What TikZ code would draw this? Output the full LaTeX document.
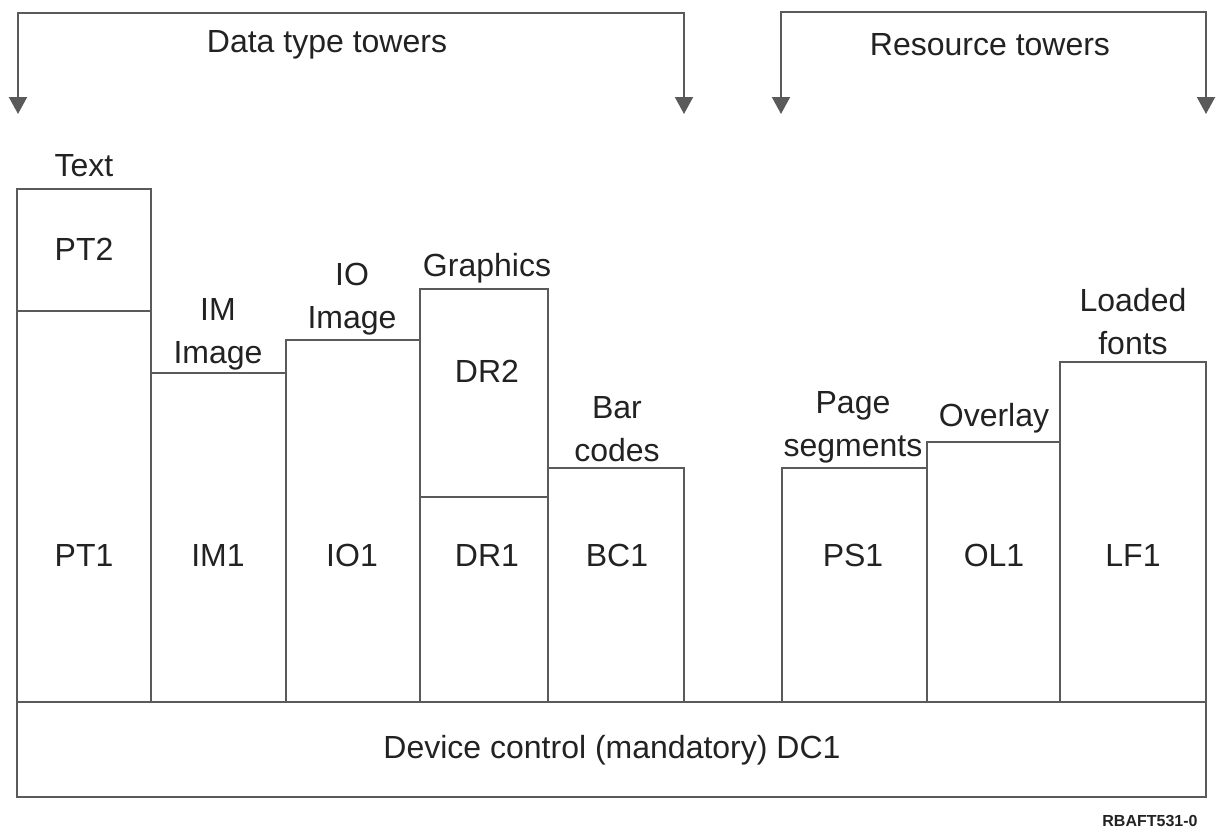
\documentclass[tikz,border=0pt]{standalone}
\usepackage{fontspec}
\setmainfont{Liberation Sans}
\usetikzlibrary{arrows.meta}
\definecolor{linec}{HTML}{5A5A5A}
\definecolor{txtc}{HTML}{222222}
\tikzset{
  box/.style={draw=linec, line width=2pt},
  lbl/.style={text=txtc, font=\fontsize{32}{43}\selectfont, align=center, inner sep=0pt},
  brk/.style={draw=linec, line width=2pt, -{Triangle[width=18pt,length=17pt]}},
}
\begin{document}
\begin{tikzpicture}[x=1pt,y=-1pt]
\useasboundingbox (0,0) rectangle (1219,828);
% base
\draw[box] (17,702) rectangle (1206,797);
\node[lbl] (dc1) at (612,750) {Device control (mandatory) DC1};
% towers
\draw[box] (17,189) rectangle (151,702);
\draw[box] (17,311) -- (151,311);
\draw[box] (151,373) rectangle (286,702);
\draw[box] (286,340) rectangle (420,702);
\draw[box] (420,289) rectangle (548,702);
\draw[box] (420,497) -- (548,497);
\draw[box] (548,468) rectangle (684,702);
\draw[box] (782,468) rectangle (927,702);
\draw[box] (927,442) rectangle (1060,702);
\draw[box] (1060,362) rectangle (1206,702);
% tower labels
\node[lbl] (text) at (84,166) {Text};
\node[lbl] (pt2) at (84,249) {PT2};
\node[lbl] (pt1) at (84,555) {PT1};
\node[lbl,anchor=base] (imimg) at (218,363) {IM\\Image};
\node[lbl] (im1) at (218,555) {IM1};
\node[lbl,anchor=base] (ioimg) at (352,328) {IO\\Image};
\node[lbl] (io1) at (352,555) {IO1};
\node[lbl,anchor=base] (graph) at (487,276) {Graphics};
\node[lbl] (dr2) at (487,371) {DR2};
\node[lbl] (dr1) at (487,555) {DR1};
\node[lbl,anchor=base] (bar) at (617,461) {Bar\\codes};
\node[lbl] (bc1) at (617,555) {BC1};
\node[lbl,anchor=base] (page) at (853,456) {Page\\segments};
\node[lbl,anchor=base] (over) at (994,426) {Overlay};
\node[lbl] (ps1) at (853,555) {PS1};
\node[lbl] (ol1) at (994,555) {OL1};
\node[lbl,anchor=base] (load) at (1133,354) {Loaded\\fonts};
\node[lbl] (lf1) at (1133,555) {LF1};
% brackets
\coordinate (dl0) at (18,13);
\coordinate (dl1) at (18,114);
\coordinate (dr0) at (684,13);
\coordinate (dr1) at (684,114);
\coordinate (rl0) at (781,12);
\coordinate (rl1) at (781,114);
\coordinate (rr0) at (1206,12);
\coordinate (rr1) at (1206,114);
\draw[brk] (dr0) -- (dl0) -- (dl1);
\draw[brk] (dl0) -- (dr0) -- (dr1);
\draw[brk] (rr0) -- (rl0) -- (rl1);
\draw[brk] (rl0) -- (rr0) -- (rr1);
\node[lbl] (dtt) at (327,45) {Data type towers};
\node[lbl] (rt) at (990,45) {Resource towers};
\node[text=txtc, font=\fontsize{16}{16}\selectfont\bfseries, inner sep=0pt, anchor=base] (fig) at (1150,826) {RBAFT531-0};
\end{tikzpicture}
\end{document}
